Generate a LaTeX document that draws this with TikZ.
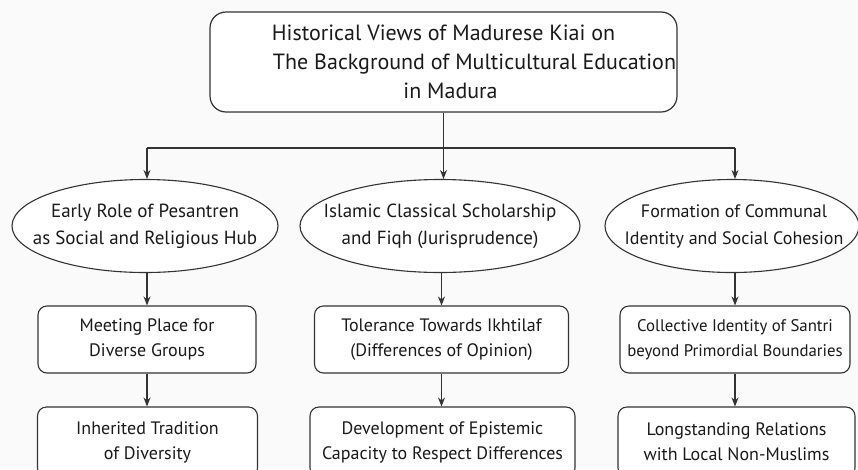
\documentclass[tikz,border=0pt]{standalone}
\usepackage{fontspec}
\setmainfont{PT Sans}
\usetikzlibrary{arrows.meta,shapes.geometric}
\definecolor{ink}{HTML}{333333}
\definecolor{txt}{HTML}{1A1A1A}
\definecolor{bg}{HTML}{FAFAFA}
\tikzset{
  every node/.style={text=txt},
  topbox/.style={draw=ink, line width=1.2pt, rounded corners=16pt, fill=white,
    minimum width=467pt, minimum height=100pt, inner sep=0pt, align=center,
    font=\fontsize{22}{29}\selectfont},
  ellbox/.style={ellipse, draw=ink, line width=1.1pt, fill=white, inner sep=0pt},
  elltext/.style={align=center, inner sep=0pt, font=\fontsize{19}{27}\selectfont},
  recbox/.style={draw=ink, line width=1.1pt, rounded corners=9pt, fill=white,
    inner sep=0pt, align=center, font=\fontsize{18}{25}\selectfont},
  conn/.style={draw=ink, line width=1.2pt},
  arr/.style={conn, -{Stealth[length=9pt,width=7pt]}}
}
\begin{document}
\begin{tikzpicture}[x=1pt,y=-1pt]
\clip (0,0) rectangle (858,469);
\fill[bg] (0,0) rectangle (858,469);
\node[topbox] (top) at (443.5,62) {Historical Views of Madurese Kiai on\\
\hspace*{62pt}The Background of Multicultural Education\\ \hspace*{14pt}in Madura};
\node[ellbox, minimum width=266pt, minimum height=93pt] (e1) at (145,226) {};
\node[elltext] (t1) at (e1) {Early Role of Pesantren\\ as Social and Religious Hub};
\node[ellbox, minimum width=280pt, minimum height=93pt] (e2) at (440,226) {};
\node[elltext] (t2) at (e2) {Islamic Classical Scholarship\\ and Fiqh (Jurisprudence)};
\node[ellbox, minimum width=254pt, minimum height=93pt] (e3) at (732,226) {};
\node[elltext, font=\fontsize{18}{27}\selectfont] (t3) at ([xshift=2pt]e3)
  {Formation of Communal\\ Identity and Social Cohesion};
\node[recbox, minimum width=218pt, minimum height=67pt] (r1) at (147,339.5)
  {Meeting Place for\\ Diverse Groups};
\node[recbox, minimum width=254pt, minimum height=67pt] (r2) at (441.5,339.5)
  {Tolerance Towards Ikhtilaf\\ (Differences of Opinion)};
\node[recbox, minimum width=230pt, minimum height=67pt,
  font=\fontsize{16.8}{25}\selectfont] (r3) at (735,339.5)
  {Collective Identity of Santri\\ beyond Primordial Boundaries};
\node[recbox, minimum width=220pt, minimum height=70pt] (b1) at (147.5,442)
  {Inherited Tradition\\ of Diversity};
\node[recbox, minimum width=265pt, minimum height=70pt] (b2) at (442.5,442)
  {Development of Epistemic\\ Capacity to Respect Differences};
\node[recbox, minimum width=237pt, minimum height=70pt] (b3) at (736.5,442)
  {Longstanding Relations\\ with Local Non-Muslims};
\coordinate (j) at (443.5,148);
\coordinate (c1) at (147,148);
\coordinate (c3) at (735,148);
\draw[conn] (top.south) -- (j);
\draw[conn] (c1) -- (c3);
\draw[arr] (c1) -- (c1 |- e1.north);
\draw[arr] (j) -- (j |- e2.north);
\draw[arr] (c3) -- (c3 |- e3.north);
\draw[arr] (r1.north |- e1.south) -- (r1.north);
\draw[arr] (r2.north |- e2.south) -- (r2.north);
\draw[arr] (r3.north |- e3.south) -- (r3.north);
\draw[arr] (r1.south) -- (r1.south |- b1.north);
\draw[arr] (r2.south) -- (r2.south |- b2.north);
\draw[arr] (r3.south) -- (r3.south |- b3.north);
\end{tikzpicture}
\end{document}
